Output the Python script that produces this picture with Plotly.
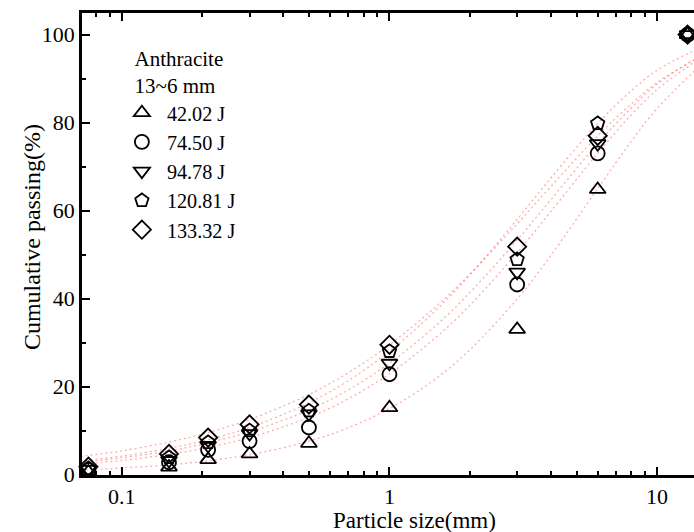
import plotly.graph_objects as go

# particle sizes (mm)
sizes = [0.075, 0.15, 0.21, 0.3, 0.5, 1, 3, 6, 13]
series_names = ["42.02 J", "74.50 J", "94.78 J", "120.81 J", "133.32 J"]
p_42 = [0.6, 1.7, 3.4, 4.7, 7.1, 15.2, 33.0, 64.8, 100]
p_74 = [1.0, 2.8, 5.6, 7.6, 10.7, 22.8, 43.2, 73.0, 100]
p_94 = [1.2, 3.2, 6.6, 9.3, 13.8, 25.3, 46.0, 75.2, 100]
p_120 = [1.4, 3.9, 7.3, 10.0, 14.5, 28.0, 48.9, 79.8, 100]
p_133 = [1.8, 4.7, 8.4, 11.4, 15.9, 29.5, 51.8, 77.0, 100]

# fitted curves
fit_x = [0.07, 0.1, 0.15, 0.2, 0.3, 0.5, 0.7, 1, 1.5, 2, 3, 4, 6, 8, 10, 14]
fit_42 = [1.0, 1.5, 2.2, 3.0, 4.5, 7.6, 10.6, 15.0, 21.9, 28.4, 39.9, 49.7, 65.0, 75.7, 83.2, 92.1]
fit_74 = [2.3, 3.2, 4.6, 5.9, 8.4, 13.0, 17.2, 22.9, 31.3, 38.5, 50.4, 59.7, 73.0, 81.7, 87.5, 94.0]
fit_94 = [2.8, 3.8, 5.4, 6.9, 9.7, 14.7, 19.2, 25.3, 34.0, 41.4, 53.3, 62.4, 75.2, 83.3, 88.7, 94.6]
fit_120 = [3.1, 4.2, 6.0, 7.6, 10.7, 16.3, 21.3, 28.0, 37.5, 45.4, 58.0, 67.3, 79.8, 87.2, 91.9, 96.6]
fit_133 = [4.1, 5.4, 7.4, 9.2, 12.5, 18.2, 23.1, 29.5, 38.3, 45.6, 57.0, 65.4, 77.0, 84.2, 89.1, 94.5]

x_major = [0.1, 1, 10]
x_labels = ["0.1", "1", "10"]
x_minor = [0.08, 0.09, 0.2, 0.3, 0.4, 0.5, 0.6, 0.7, 0.8, 0.9,
           2, 3, 4, 5, 6, 7, 8, 9]
y_major = [0, 20, 40, 60, 80, 100]

data = [p_42, p_74, p_94, p_120, p_133]
fits = [fit_42, fit_74, fit_94, fit_120, fit_133]
symbols = ["triangle-up-open", "circle-open", "triangle-down-open", "pentagon-open", "diamond-open"]

FONT = "Liberation Serif, Times New Roman, serif"

fig = go.Figure()
for f in fits:
    fig.add_trace(go.Scatter(
        x=fit_x, y=f, mode="lines", line=dict(color="rgba(255,70,70,0.45)", width=1.3, dash="2px,3px", shape="spline"),
        showlegend=False, hoverinfo="skip"))
for name, d, s in zip(series_names, data, symbols):
    fig.add_trace(go.Scatter(
        x=sizes, y=d, mode="markers", name=name, cliponaxis=False,
        marker=dict(symbol=s, size=14, color="black", line=dict(color="black", width=1.8))))

fig.update_layout(
    width=694, height=532,
    margin=dict(l=82, r=0, t=13, b=57),
    paper_bgcolor="white", plot_bgcolor="white",
    font=dict(family=FONT, size=22, color="black"),
    showlegend=True,
    legend=dict(
        x=0.057, y=0.945, xanchor="left", yanchor="top",
        bgcolor="rgba(0,0,0,0)", borderwidth=0,
        font=dict(family=FONT, size=20.2),
        itemwidth=40,
        title=dict(text="Anthracite<br>13~6 mm", side="top center", font=dict(family=FONT, size=21)),
    ),
    xaxis=dict(
        type="log", range=[-1.149, 1.138],
        showline=True, linecolor="black", linewidth=2.5, mirror="ticks",
        ticks="inside", ticklen=8, tickwidth=2, tickcolor="black",
        tickvals=x_major, ticktext=x_labels, showgrid=False, zeroline=False,
        tickfont=dict(family=FONT, size=22),
        minor=dict(tickvals=x_minor, ticks="inside", ticklen=4, tickwidth=2, tickcolor="black", showgrid=False),
    ),
    yaxis=dict(
        range=[-0.1, 104.9],
        showline=True, linecolor="black", linewidth=2.5, mirror=False,
        ticks="inside", ticklen=8, tickwidth=2, tickcolor="black",
        tickvals=y_major, showgrid=False, zeroline=False,
        tickfont=dict(family=FONT, size=22),
        minor=dict(dtick=10, ticks="inside", ticklen=4, tickwidth=2, tickcolor="black", showgrid=False),
    ),
    annotations=[
        dict(text="Particle size(mm)", xref="paper", yref="paper", x=0.544, y=0,
             yshift=-45, xanchor="center", yanchor="middle", showarrow=False,
             font=dict(family=FONT, size=23)),
        dict(text="Cumulative passing(%)", xref="paper", yref="paper", x=0, y=0.515,
             xshift=-50, xanchor="center", yanchor="middle", showarrow=False, textangle=-90,
             font=dict(family=FONT, size=24)),
    ],
)

fig.write_html("out.html")
